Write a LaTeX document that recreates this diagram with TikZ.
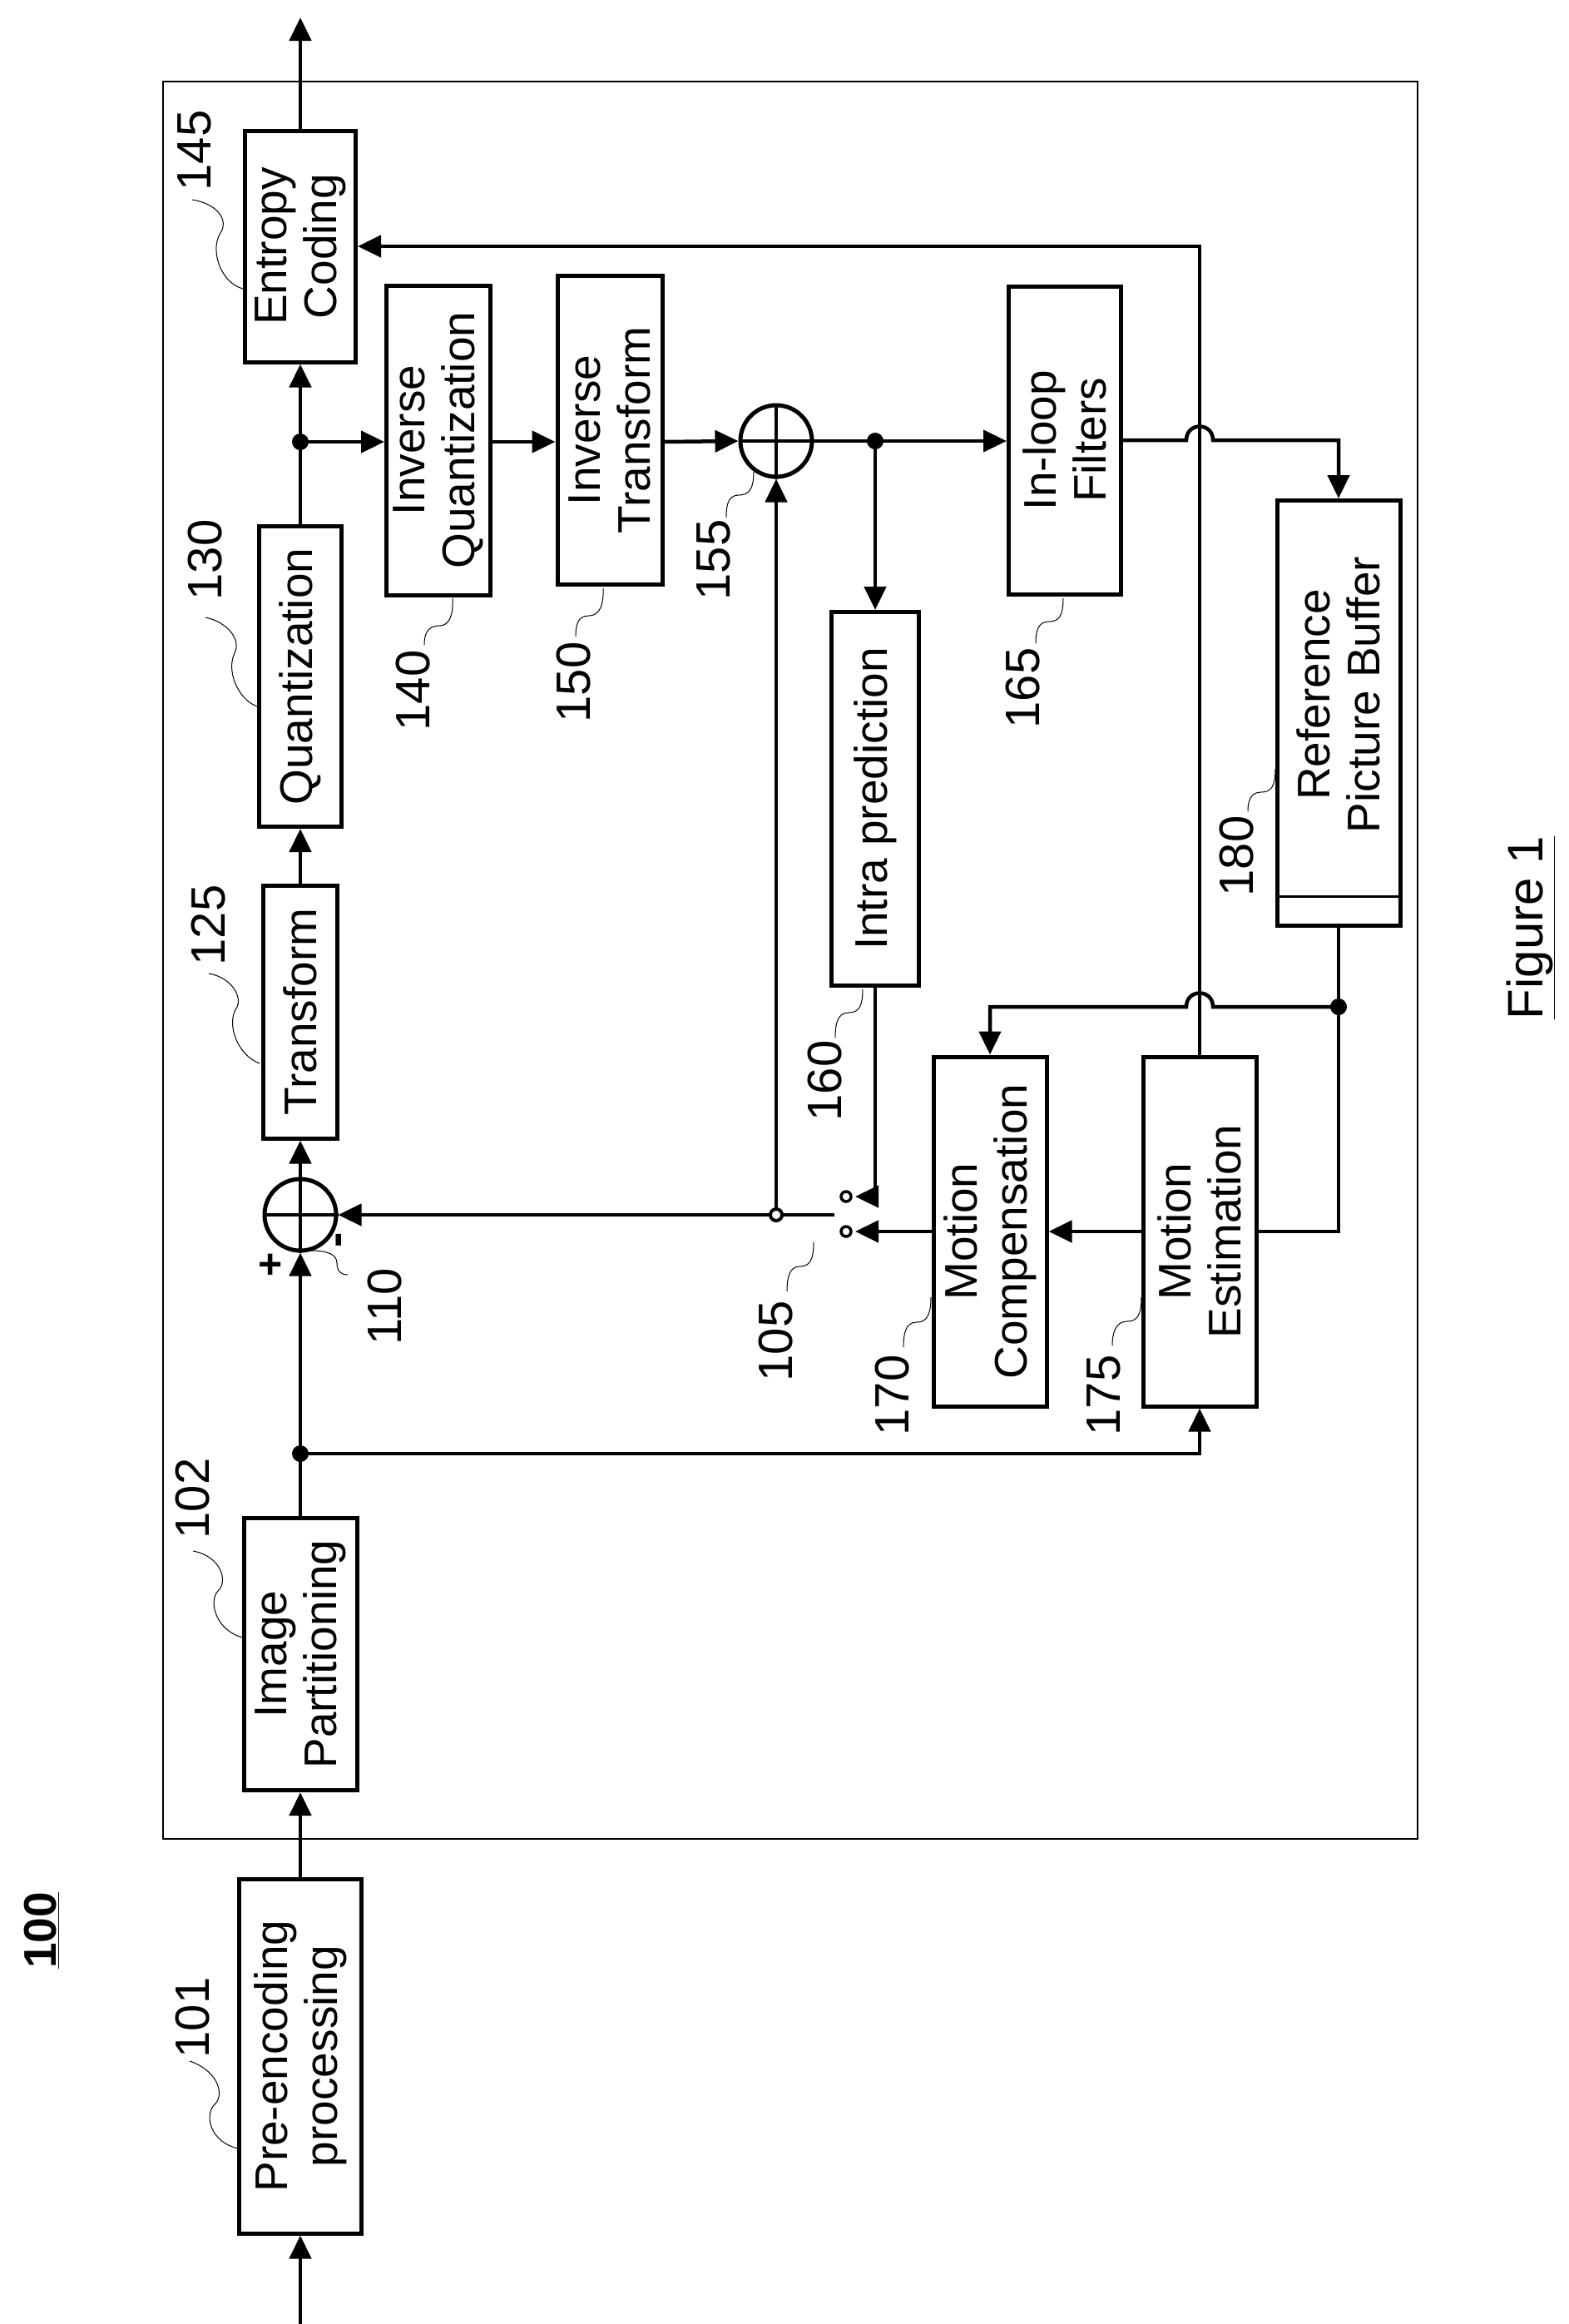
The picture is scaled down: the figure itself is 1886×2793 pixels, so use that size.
\documentclass[tikz,border=0pt]{standalone}
\usepackage{fontspec}
\setmainfont{Liberation Sans}
\usetikzlibrary{arrows.meta,calc}
\begin{document}
\begin{tikzpicture}[x=1pt,y=-1pt,
  box/.style={draw,line width=5pt,inner sep=0pt},
  txt/.style={rotate=90,align=center,font=\fontsize{55}{60}\selectfont},
  num/.style={rotate=90,font=\fontsize{58}{60}\selectfont},
  wire/.style={line width=4.5pt},
  arr/.style={wire,-{Triangle[length=28pt,width=26pt]}},
  lead/.style={line width=1pt},
  dot/.style={circle,fill=black,inner sep=0pt,minimum size=20pt},
  hdot/.style={circle,draw,fill=white,line width=4pt,inner sep=0pt,minimum size=14pt},
  adder/.style={circle,draw,line width=5pt,minimum size=86pt,inner sep=0pt}]
\useasboundingbox (0,0) rectangle (1886,2793);
% frame
\draw[line width=1.5pt] (196,98) rectangle (1704,2210);
% boxes
\node[box,minimum width=147pt,minimum height=426pt] (pre) at (361,2471) {};
\node[txt] at (pre) {Pre-encoding\\processing};
\node[box,minimum width=136pt,minimum height=327pt] (ip) at (361,1988) {};
\node[txt] at (ip) {Image\\Partitioning};
\node[box,minimum width=89pt,minimum height=304pt] (tr) at (361,1216) {};
\node[txt] at (tr) {Transform};
\node[box,minimum width=99pt,minimum height=361pt] (qu) at (361,813) {};
\node[txt] at (qu) {Quantization};
\node[box,minimum width=133pt,minimum height=278pt] (ec) at (361,296) {};
\node[txt] at (ec) {Entropy\\Coding};
\node[box,minimum width=125pt,minimum height=372pt] (iq) at (527,529) {};
\node[txt] at (iq) {Inverse\\Quantization};
\node[box,minimum width=126pt,minimum height=371pt] (it) at (733,517) {};
\node[txt] at (it) {Inverse\\Transform};
\node[box,minimum width=135pt,minimum height=370pt] (il) at (1280,529) {};
\node[txt] at (il) {In-loop\\Filters};
\node[box,minimum width=105pt,minimum height=449pt] (ipr) at (1052,960) {};
\node[txt] at (ipr) {Intra prediction};
\node[box,minimum width=148pt,minimum height=511pt] (rpb) at (1609,857) {};
\node[txt] at (1609,835) {Reference\\Picture Buffer};
\draw[line width=3pt] (rpb.west |- 0,1077) -- (rpb.east |- 0,1077);
\node[box,minimum width=136pt,minimum height=420pt] (mc) at (1190,1480) {};
\node[txt] at (mc) {Motion\\Compensation};
\node[box,minimum width=136pt,minimum height=420pt] (me) at (1442,1480) {};
\node[txt] at (me) {Motion\\Estimation};
% adders
\node[adder] (a110) at (361,1460) {};
\draw[line width=4pt] (a110.north) -- (a110.south) (a110.west) -- (a110.east);
\node[adder] (a155) at (933,530) {};
\draw[line width=4pt] (a155.north) -- (a155.south) (a155.west) -- (a155.east);
% junctions
\coordinate (d1) at (361,1747);
\coordinate (d2) at (361,531);
\coordinate (d3) at (1052,530);
\coordinate (d4) at (1609,1210);
\coordinate (hd) at (933,1460);
\coordinate (sw) at (1003,1460);
\coordinate (s1) at (1017,1438);
\coordinate (s2) at (1017,1480);
\coordinate (in) at (361,2793);
\coordinate (out) at (361,21);
% connectors
\draw[arr] (in) -- (pre.south);
\draw[arr] (pre.north) -- (ip.south);
\draw[arr] (ip.north) -- (a110.south);
\draw[arr] (d1) -- (1442,1747) -- (me.south);
\draw[arr] (a110.north) -- (tr.south);
\draw[arr] (tr.north) -- (qu.south);
\draw[arr] (qu.north) -- (ec.south);
\draw[arr] (ec.north) -- (out);
\draw[arr] (d2) -- (iq.west |- d2);
\draw[arr] (iq.east |- d2) -- (it.west |- d2);
\draw[arr] (it.east |- d2) -- (a155.west);
\draw[arr] (a155.east) -- (il.west |- a155.east);
\draw[arr] (d3) -- (ipr.north);
\draw[arr] (il.east |- 0,529) -- (1426,529) .. controls (1426,507) and (1458,507) .. (1458,529) -- (1609,529) -- (rpb.north);
\draw[wire] (rpb.south) -- (d4) -- (1609,1480) -- (me.east);
\draw[arr] (d4) -- (1458,1210) .. controls (1458,1188) and (1426,1188) .. (1426,1210) -- (1190,1210) -- (mc.north);
\draw[arr] (me.north) -- (1442,296) -- (ec.east |- 0,296);
\draw[arr] (me.west) -- (mc.east);
\draw[arr] (mc.west) -- (1028,1480);
\draw[arr] (ipr.south) -- (1052,1438) -- (1028,1438);
\draw[arr] (sw) -- (a110.east);
\draw[arr] (hd) -- (a155.south);
\node[dot] at (d1) {};
\node[dot] at (d2) {};
\node[dot] at (d3) {};
\node[dot] at (d4) {};
\node[hdot] at (hd) {};
\node[hdot,minimum size=12pt,line width=3.5pt] at (s1) {};
\node[hdot,minimum size=12pt,line width=3.5pt] at (s2) {};
% signs
\node[font=\fontsize{50}{50}\selectfont\bfseries] at (325,1522) {+};
\node[rotate=90,font=\fontsize{55}{55}\selectfont\bfseries] at (413,1490) {-};
% reference numbers and leaders
\node[num] (n101) at (232,2425) {101};
\draw[lead] (228,2477) .. controls (265,2490) and (270,2520) .. (257,2530) .. controls (245,2545) and (255,2575) .. (286,2582);
\node[num] (n102) at (232,1801) {102};
\draw[lead] (232,1864) .. controls (265,1870) and (275,1900) .. (262,1912) .. controls (250,1925) and (260,1960) .. (292,1968);
\node[num] (n145) at (234,181) {145};
\draw[lead] (231,240) .. controls (262,245) and (275,265) .. (265,280) .. controls (252,300) and (265,340) .. (292,347);
\node[num] (n130) at (247,673) {130};
\draw[lead] (247,742) .. controls (275,748) and (290,770) .. (282,785) .. controls (272,805) and (285,840) .. (309,849);
\node[num] (n125) at (251,1112) {125};
\draw[lead] (251,1170) .. controls (280,1175) and (292,1200) .. (284,1212) .. controls (272,1230) and (285,1268) .. (312,1278);
\node[num] (n140) at (497,830) {140};
\draw[lead] (544,719) .. controls (545,740) and (540,752) .. (528,752) .. controls (512,752) and (510,765) .. (510,775);
\node[num] (n150) at (690,820) {150};
\draw[lead] (725,707) .. controls (726,728) and (720,740) .. (708,740) .. controls (694,740) and (692,752) .. (692,765);
\node[num] (n155) at (858,673) {155};
\draw[lead] (906,567) .. controls (906,588) and (900,595) .. (888,595) .. controls (874,595) and (873,610) .. (873,622);
\node[num] (n160) at (992,1299) {160};
\draw[lead] (1037,1189) .. controls (1037,1210) and (1032,1217) .. (1020,1217) .. controls (1006,1217) and (1004,1232) .. (1004,1247);
\node[num] (n165) at (1230,827) {165};
\draw[lead] (1278,719) .. controls (1278,740) and (1273,747) .. (1261,747) .. controls (1247,747) and (1245,760) .. (1245,773);
\node[num] (n170) at (1073,1677) {170};
\draw[lead] (1119,1559) .. controls (1119,1580) and (1114,1589) .. (1102,1589) .. controls (1088,1589) and (1086,1604) .. (1086,1619);
\node[num] (n175) at (1327,1677) {175};
\draw[lead] (1372,1559) .. controls (1372,1580) and (1367,1588) .. (1355,1588) .. controls (1341,1588) and (1337,1602) .. (1337,1617);
\node[num] (n180) at (1487,1029) {180};
\draw[lead] (1533,924) .. controls (1533,945) and (1528,952) .. (1516,952) .. controls (1502,952) and (1500,965) .. (1500,975);
\node[num] (n105) at (933,1612) {105};
\draw[lead] (978,1493) .. controls (978,1515) and (973,1522) .. (961,1522) .. controls (948,1522) and (946,1538) .. (946,1552);
\node[num] (n110) at (463,1570) {110};
\draw[lead] (373,1503) .. controls (395,1503) and (405,1508) .. (405,1518) .. controls (405,1528) and (410,1532) .. (418,1532);
% titles
\node[rotate=90,font=\fontsize{55}{60}\selectfont\bfseries] at (50,2320) {\underline{100}};
\node[rotate=90,font=\fontsize{60}{60}\selectfont] at (1840,1115) {\underline{Figure 1}};
\end{tikzpicture}
\end{document}
